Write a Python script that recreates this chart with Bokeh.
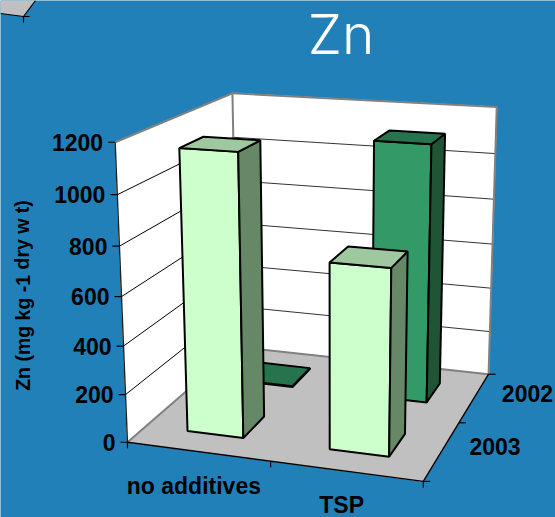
import numpy as np
from bokeh.core.properties import value
from bokeh.embed import file_html
from bokeh.models import Range1d
from bokeh.plotting import figure
from bokeh.resources import INLINE

# Zn concentration by treatment and year
treatments = ["no additives", "TSP"]
years = ["2003", "2002"]          # front row first
zn_2003 = [1155, 755]
zn_2002 = [4, 1108]
y_ticks = [0, 200, 400, 600, 800, 1000, 1200]
y_max = 1200

BG = "#2180b8"
FONT = value("Liberation Sans")

# Oblique camera for the chart box: unit-cube points (across, depth, height)
# paired with where they land on the page; solved as a 3x4 projective matrix.
calibration = [
    ((0, 0, 0), (127, 441)), ((1, 0, 0), (423, 480)), ((1, 1, 0), (488, 374)),
    ((0, 1, 0), (237, 346)), ((0, 0, 1), (115, 142)), ((0, 1, 1), (232, 93)),
    ((1, 1, 1), (496, 107)), ((0.5, 0, 0), (271, 462)), ((1, 0.5, 0), (458, 422)),
    ((0, 0, 1/6), (124.5, 394)), ((0, 0, 2/6), (122.5, 346)), ((0, 0, 3/6), (120.5, 296)),
    ((0, 0, 4/6), (119, 246)), ((0, 0, 5/6), (117, 194)),
    ((1, 1, 1/6), (489.5, 332)), ((1, 1, 2/6), (490.5, 288)), ((1, 1, 3/6), (492, 244)),
    ((1, 1, 4/6), (493.5, 198)), ((1, 1, 5/6), (495, 152)),
]
rows = []
for (a, b, c), (u, v) in calibration:
    rows.append([a, b, c, 1, 0, 0, 0, 0, -u*a, -u*b, -u*c, -u])
    rows.append([0, 0, 0, 0, a, b, c, 1, -v*a, -v*b, -v*c, -v])
CAM = np.linalg.svd(np.array(rows, dtype=float))[2][-1].reshape(3, 4)


def proj(a, d, z):
    h = CAM @ np.array([a, d, z, 1.0])
    return h[0] / h[2], h[1] / h[2]


def poly(*pts):
    xy = [proj(*q) for q in pts]
    return [q[0] for q in xy], [q[1] for q in xy]


p = figure(width=555, height=517, output_backend="svg", toolbar_location=None,
           x_range=Range1d(0, 555), y_range=Range1d(517, 0), min_border=0,
           background_fill_color=BG, border_fill_color=BG)
p.axis.visible = False
p.grid.visible = False
p.outline_line_color = None


def face(pts, fill, line=None, width=1.0):
    xs, ys = poly(*pts)
    p.patch(xs, ys, fill_color=fill, line_color=line or fill, line_width=width)


def seg(a, b, color="#000000", width=1.0):
    xa, ya = proj(*a)
    xb, yb = proj(*b)
    p.line([xa, xb], [ya, yb], line_color=color, line_width=width)


# Walls and floor
face([(0, 1, 0), (1, 1, 0), (1, 1, 1), (0, 1, 1)], "#ffffff")
face([(0, 0, 0), (0, 1, 0), (0, 1, 1), (0, 0, 1)], "#ffffff")
face([(0, 0, 0), (1, 0, 0), (1, 1, 0), (0, 1, 0)], "#c0c0c0")

# Gridlines
for t in y_ticks[1:-1]:
    z = t / y_max
    seg((0, 0, z), (0, 1, z), "#000000", 1)
    seg((0, 1, z), (1, 1, z), "#333333", 1)

# Box edges
GREY = "#808080"
seg((0, 0, 1), (0, 1, 1), GREY, 2)
seg((0, 1, 1), (1, 1, 1), GREY, 2)
seg((0, 1, 0), (0, 1, 1), GREY, 2)
seg((1, 1, 0), (1, 1, 1), GREY, 2)
seg((0, 0, 0), (0, 1, 0), GREY, 2)
seg((0, 1, 0), (1, 1, 0), GREY, 2)

# Axis lines and tick marks
seg((0, 0, 0), (0, 0, 1), "#222222", 1.4)
seg((0, 0, 0), (1, 0, 0), "#000000", 1.4)
seg((1, 0, 0), (1, 1, 0), "#000000", 1.4)
for t in y_ticks:
    x0, y0 = proj(0, 0, t / y_max)
    p.line([x0 - 7, x0], [y0, y0], line_color="#000000", line_width=1.2)
for a in (0, 0.5, 1):
    x0, y0 = proj(a, 0, 0)
    p.line([x0, x0], [y0, y0 + 6], line_color="#000000", line_width=1.2)
for d in (0, 0.5, 1):
    x0, y0 = proj(1, d, 0)
    p.line([x0, x0 + 7], [y0, y0], line_color="#000000", line_width=1.2)

# Bars, back row first so that the front row overlaps it
FRONT_PAL = ("#ccffcc", "#668866", "#a0c8a0")
BACK_PAL = ("#339966", "#1f5535", "#27734e")
BAR = 0.2


def bar(i, row, val, pal):
    a0 = 0.25 + 0.5 * i - BAR / 2
    a1 = a0 + BAR
    d0 = 0.25 + 0.5 * row - BAR / 2
    d1 = d0 + BAR
    z = val / y_max
    face([(a0, d0, 0), (a1, d0, 0), (a1, d0, z), (a0, d0, z)], pal[0], "#000000", 2)
    face([(a1, d0, 0), (a1, d1, 0), (a1, d1, z), (a1, d0, z)], pal[1], "#000000", 2)
    face([(a0, d0, z), (a1, d0, z), (a1, d1, z), (a0, d1, z)], pal[2], "#000000", 2)


for i, v in enumerate(zn_2002):
    bar(i, 1, v, BACK_PAL)
for i, v in enumerate(zn_2003):
    bar(i, 0, v, FRONT_PAL)

# Tick labels
LABEL_PX = "23px"
for t in y_ticks:
    x0, y0 = proj(0, 0, t / y_max)
    p.text([x0 - 12], [y0], text=[str(t)], text_font=FONT, text_font_style="bold",
           text_font_size=LABEL_PX, text_align="right", text_baseline="middle",
           text_color="#000000")
for i, name in enumerate(treatments):
    x0, y0 = proj(0.25 + 0.5 * i, 0, 0)
    p.text([x0 - 4], [y0 + 34], text=[name], text_font=FONT, text_font_style="bold",
           text_font_size=LABEL_PX, text_align="center", text_baseline="middle",
           text_color="#000000")
for r, name in enumerate(years):
    x0, y0 = proj(1, 0.25 + 0.5 * r, 0)
    p.text([x0 + 53], [y0 - 4], text=[name], text_font=FONT, text_font_style="bold",
           text_font_size=LABEL_PX, text_align="center", text_baseline="middle",
           text_color="#000000")

p.text([22], [295], text=["Zn (mg kg -1 dry w t)"], angle=[np.pi / 2], text_font=FONT,
       text_font_style="bold", text_font_size="19.5px", text_align="center",
       text_baseline="middle", text_color="#000000")

# Title
p.text([340.5], [33.5], text=["Zn"], text_font=value("Inter Light"),
       text_font_size="55px", text_align="center", text_baseline="middle",
       text_color="#ffffff")

# Corner of a neighbouring chart cut off at the page edge
p.patch([0, 23, 35, 0], [13, 16, 0, 0], fill_color="#c0c0c0", line_color=None)
p.line([0, 23, 35], [13, 16, 0], line_color="#000000", line_width=1.2)
p.line([23, 29], [16, 16], line_color="#000000", line_width=1.2)
p.line([23, 23], [16, 22], line_color="#000000", line_width=1.2)

open("out.html", "w").write(file_html(p, INLINE))
